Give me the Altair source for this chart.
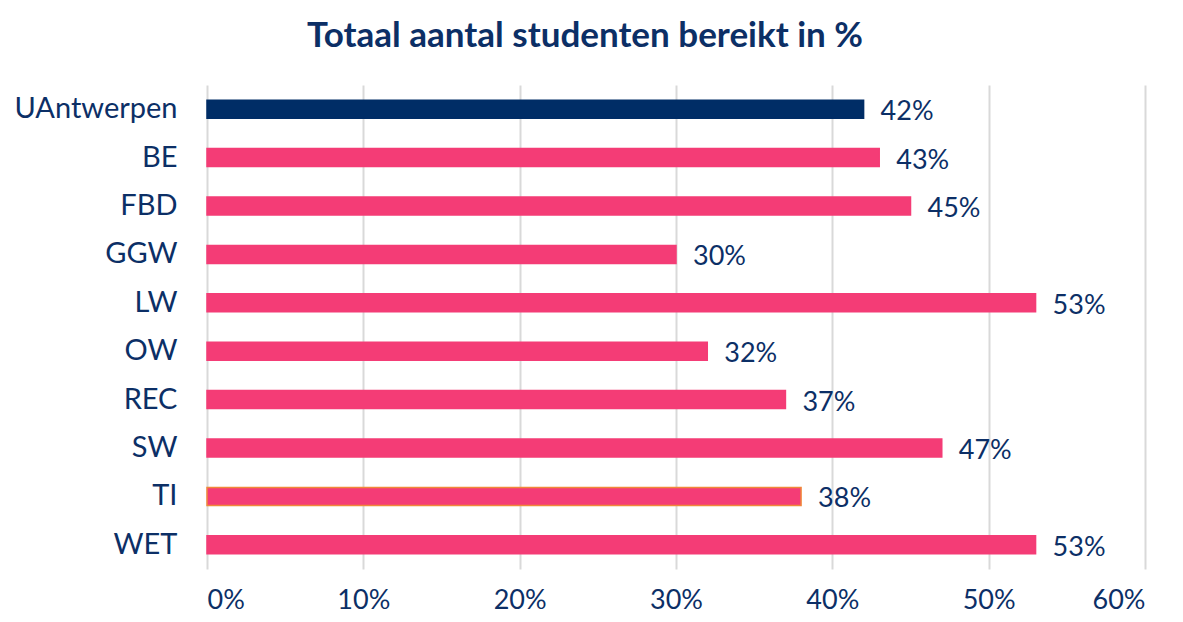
import altair as alt
import pandas as pd

categories = ["UAntwerpen", "BE", "FBD", "GGW", "LW", "OW", "REC", "SW", "TI", "WET"]
values = [42, 43, 45, 30, 53, 32, 37, 47, 38, 53]
labels = ["42%", "43%", "45%", "30%", "53%", "32%", "37%", "47%", "38%", "53%"]
fills = ["#002D66", "#F43C76", "#F43C76", "#F43C76", "#F43C76", "#F43C76", "#F43C76", "#F43C76", "#F43C76", "#F43C76"]
strokes = ["#002D66", "#F43C76", "#F43C76", "#F43C76", "#F43C76", "#F43C76", "#F43C76", "#F43C76", "#F0883A", "#F43C76"]
x_ticks = [0, 10, 20, 30, 40, 50, 60]

df = pd.DataFrame({"cat": categories, "val": values, "label": labels,
                   "fill": fills, "stroke": strokes})

navy = "#0C2F66"
font = "Lato"

y_enc = alt.Y("cat:N", sort=categories, title=None,
              scale=alt.Scale(paddingInner=0.0, paddingOuter=0.0),
              axis=alt.Axis(labelFont=font, labelFontSize=29, labelColor=navy,
                            labelPadding=30, ticks=False, domain=False, grid=False))
x_enc = alt.X("val:Q", title=None, scale=alt.Scale(domain=[0, 60], nice=False),
              axis=alt.Axis(values=x_ticks, labelExpr="datum.value + '%'",
                            labelFont=font, labelFontSize=27, labelColor=navy,
                            labelPadding=18, ticks=False, domain=False,
                            grid=True, gridColor="#D9D9D9", gridWidth=2))

bars = alt.Chart(df).mark_bar(size=18, strokeWidth=1.5).encode(
    x=x_enc, y=y_enc,
    fill=alt.Fill("fill:N", scale=None),
    stroke=alt.Stroke("stroke:N", scale=None),
)
text = alt.Chart(df).mark_text(align="left", baseline="middle", dx=17, dy=3,
                               font=font, fontSize=27, color=navy).encode(
    x="val:Q", y=alt.Y("cat:N", sort=categories), text="label:N")

chart = (bars + text).properties(
    width=938, height=484,
    title=alt.TitleParams("Totaal aantal studenten bereikt in %", font=font,
                          fontSize=35, fontWeight="bold", color=navy,
                          anchor="middle", dx=-91, offset=31),
    autosize=alt.AutoSizeParams(type="none"),
    padding={"left": 199, "top": 77, "right": 30, "bottom": 45},
).configure_view(stroke=None)

chart.save("out.html", embed_options={"renderer": "svg", "actions": False})
